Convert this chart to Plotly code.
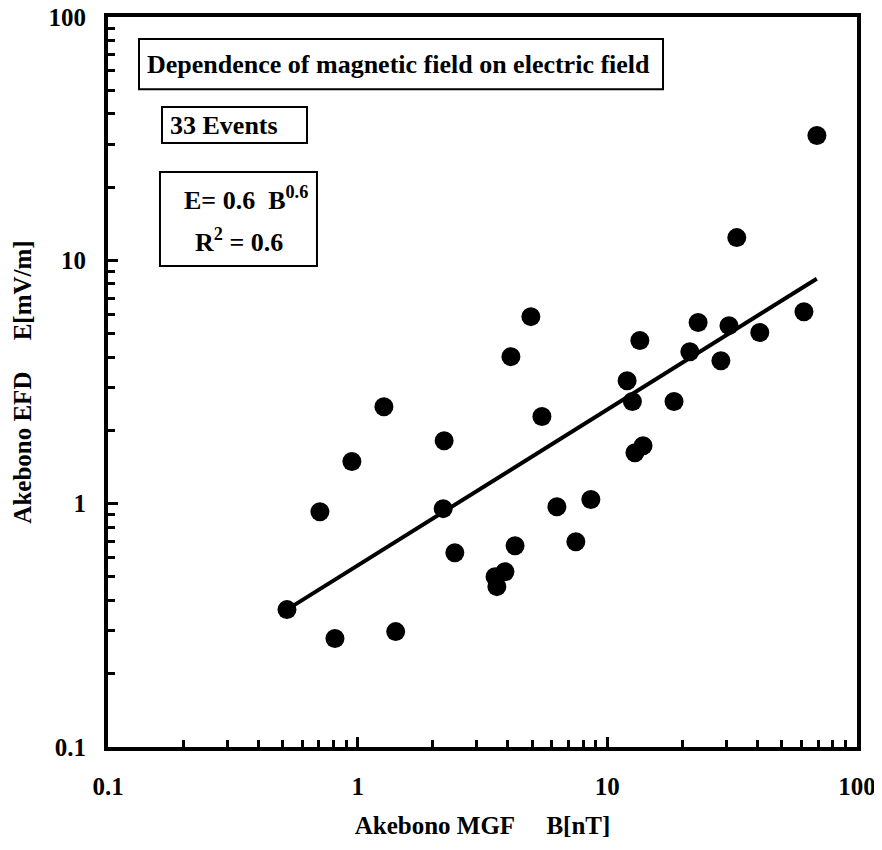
import plotly.graph_objects as go

# Data
b_values = [0.521, 0.811, 1.42, 0.706, 0.948, 1.274, 2.22, 2.20, 2.45, 3.89, 3.55,
            3.61, 4.27, 4.94, 4.11, 5.47, 6.28, 8.59, 7.48, 13.5, 12.0, 12.6, 13.9,
            12.9, 18.5, 23.1, 21.4, 30.7, 28.5, 69.1, 33.0, 61.3, 40.8]
e_values = [0.367, 0.279, 0.298, 0.927, 1.49, 2.50, 1.815, 0.954, 0.629, 0.525, 0.501,
            0.456, 0.672, 5.87, 4.02, 2.28, 0.972, 1.04, 0.698, 4.68, 3.20, 2.63, 1.73,
            1.62, 2.63, 5.55, 4.21, 5.39, 3.87, 32.6, 12.4, 6.15, 5.05]
fit_b = [0.521, 69.0]
fit_e = [0.367, 8.4]

tick_vals = [0.1, 1, 10, 100]
tick_text = ["0.1", "1", "10", "100"]
minor_vals = [m * 10.0 ** p for p in (-1, 0, 1) for m in range(2, 10)]

FONT = "Liberation Serif, Times New Roman, serif"

fig = go.Figure()
fig.add_trace(go.Scatter(x=b_values, y=e_values, mode="markers",
                         marker=dict(size=19, color="black"), showlegend=False))
fig.add_trace(go.Scatter(x=fit_b, y=fit_e, mode="lines",
                         line=dict(color="black", width=4), showlegend=False))

axis_common = dict(
    type="log", range=[-1, 2], showgrid=False, zeroline=False, automargin=False,
    showline=True, linewidth=4, linecolor="black", mirror=True,
    ticks="inside", ticklen=10, tickwidth=3, tickcolor="black",
    tickmode="array", tickvals=tick_vals, ticktext=tick_text,
    ticklabeloverflow="allow",
    tickfont=dict(family=FONT, size=25, color="black", weight="bold"),
    minor=dict(ticks="inside", ticklen=7, tickwidth=3, tickcolor="black",
               tickmode="array", tickvals=minor_vals, showgrid=False),
)

fig.update_xaxes(**axis_common, ticklabelstandoff=14,
                 title=dict(text="Akebono MGF\u00a0\u00a0\u00a0\u00a0\u00a0B[nT]",
                            font=dict(family=FONT, size=25, color="black", weight="bold"),
                            standoff=18))
fig.update_yaxes(**axis_common, ticklabelstandoff=13,
                 title=dict(text="Akebono EFD\u00a0\u00a0\u00a0\u00a0\u00a0E[mV/m]",
                            font=dict(family=FONT, size=25, color="black", weight="bold"),
                            standoff=11))

def box(x0, x1, y0, y1, w=2):
    fig.add_shape(type="rect", xref="x domain", yref="y domain",
                  x0=x0, x1=x1, y0=y0, y1=y1,
                  line=dict(color="black", width=w), fillcolor="white", layer="above")

box(0.0414, 0.741, 0.901, 0.970)
box(0.0721, 0.2657, 0.8274, 0.8767)
box(0.0694, 0.279, 0.659, 0.7877)

tf = dict(family=FONT, size=26, color="black", weight="bold")
fig.add_annotation(xref="x domain", yref="y domain", x=0.3885, y=0.9356,
                   text="Dependence of magnetic field on electric field",
                   showarrow=False, xanchor="center", yanchor="middle", font=tf)
fig.add_annotation(xref="x domain", yref="y domain", x=0.0801, y=0.852,
                   text="33 Events", showarrow=False, xanchor="left", yanchor="middle", font=tf)
fig.add_annotation(xref="x domain", yref="y domain", x=0.0988, y=0.752,
                   text="E= 0.6\u00a0\u00a0B<sup>0.6</sup>", showarrow=False,
                   xanchor="left", yanchor="middle", font=tf)
fig.add_annotation(xref="x domain", yref="y domain", x=0.1135, y=0.694,
                   text="R<sup>2</sup> = 0.6", showarrow=False,
                   xanchor="left", yanchor="middle", font=tf)

# The page body adds an 8px offset, so the figure is sized/margined to compensate
fig.update_layout(
    width=866, height=834,
    margin=dict(l=100, r=17, t=9, b=95),
    plot_bgcolor="white", paper_bgcolor="white",
    font=dict(family=FONT, color="black"),
)

fig.write_html("out.html")
